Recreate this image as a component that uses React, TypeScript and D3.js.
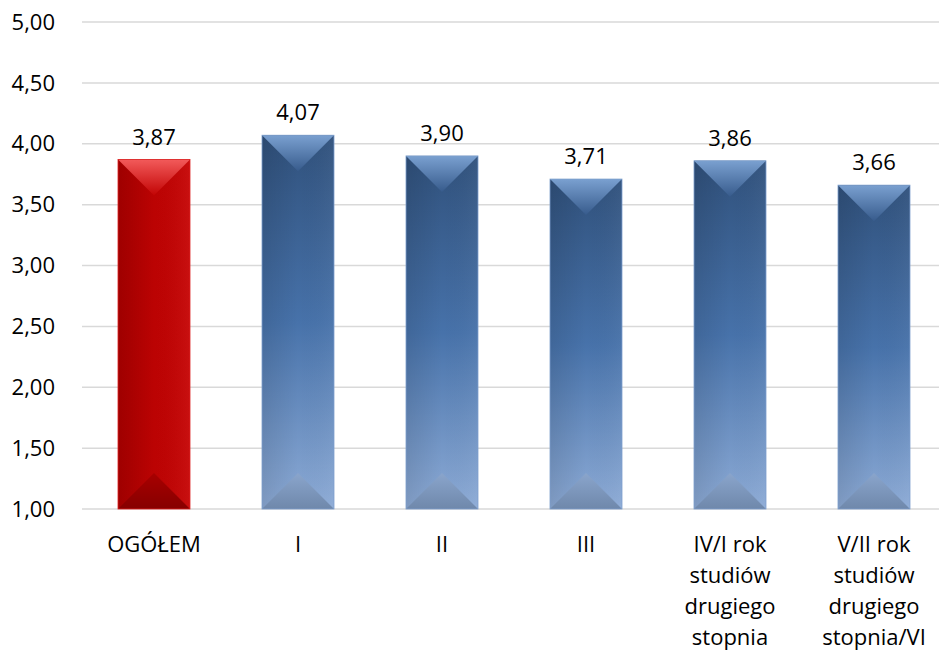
import React from "react";
import * as d3 from "d3";

const categories: string[][] = [
  ["OGÓŁEM"],
  ["I"],
  ["II"],
  ["III"],
  ["IV/I rok", "studiów", "drugiego", "stopnia"],
  ["V/II rok", "studiów", "drugiego", "stopnia/VI"],
];
const values: number[] = [3.87, 4.07, 3.9, 3.71, 3.86, 3.66];
const yTicks: number[] = [1, 1.5, 2, 2.5, 3, 3.5, 4, 4.5, 5];

const W = 939;
const H = 655;
const FONT = "'Open Sans', 'Noto Sans', sans-serif";

const fmt = (v: number) => v.toFixed(2).replace(".", ",");

export default function App() {
  const keys = categories.map((_, i) => String(i));
  const x = d3.scaleBand<string>().domain(keys).range([82, 946]).paddingInner(0.5).paddingOuter(0.25);
  const y = d3.scaleLinear().domain([1, 5]).range([509, 22]);
  const bw = x.bandwidth();
  const bevel = bw / 2;

  return (
    <svg width={W} height={H} style={{ position: "absolute", left: 0, top: 0, background: "#fff" }}>
      <defs>
        <linearGradient id="blueBody" x1="0" y1="0" x2="0" y2="1">
          <stop offset="0" stopColor="#30517c" />
          <stop offset="0.5" stopColor="#4772aa" />
          <stop offset="1" stopColor="#8dabd6" />
        </linearGradient>
        <linearGradient id="blueTop" x1="0" y1="0" x2="0" y2="1">
          <stop offset="0" stopColor="#7aa0d0" />
          <stop offset="1" stopColor="#375b8c" />
        </linearGradient>
        <linearGradient id="blueBottom" x1="0" y1="0" x2="0" y2="1">
          <stop offset="0" stopColor="#8aa5cc" />
          <stop offset="1" stopColor="#6f88ab" />
        </linearGradient>
        <linearGradient id="redBody" x1="0" y1="0" x2="1" y2="0">
          <stop offset="0" stopColor="#b00000" />
          <stop offset="1" stopColor="#c60606" />
        </linearGradient>
        <linearGradient id="redTop" x1="0" y1="0" x2="0" y2="1">
          <stop offset="0" stopColor="#f25a5a" />
          <stop offset="1" stopColor="#c20404" />
        </linearGradient>
        <linearGradient id="redBottom" x1="0" y1="0" x2="0" y2="1">
          <stop offset="0" stopColor="#a80000" />
          <stop offset="1" stopColor="#860000" />
        </linearGradient>
        <linearGradient id="sideShade" x1="0" y1="0" x2="1" y2="0">
          <stop offset="0" stopColor="#000" stopOpacity="0.1" />
          <stop offset="0.5" stopColor="#000" stopOpacity="0" />
          <stop offset="1" stopColor="#fff" stopOpacity="0.04" />
        </linearGradient>
      </defs>

      {yTicks.map((t) => (
        <g key={t}>
          <line x1={82} x2={W} y1={y(t)} y2={y(t)} stroke="#d9d9d9" strokeWidth={1.5} />
          <text x={55} y={y(t)} dy="0.35em" textAnchor="end" fontFamily={FONT} fontSize={22} fill="#000">
            {fmt(t)}
          </text>
        </g>
      ))}

      {values.map((v, i) => {
        const x0 = x(String(i)) as number;
        const top = y(v);
        const bottom = y(1);
        const red = i === 0;
        const cx = x0 + bw / 2;
        return (
          <g key={i}>
            <rect x={x0} y={top} width={bw} height={bottom - top} fill={red ? "url(#redBody)" : "url(#blueBody)"} />
            <rect x={x0} y={top} width={bw} height={bottom - top} fill="url(#sideShade)" />
            <polygon
              points={`${x0},${top} ${x0 + bw},${top} ${cx},${top + bevel}`}
              fill={red ? "url(#redTop)" : "url(#blueTop)"}
            />
            <polygon
              points={`${x0},${bottom} ${x0 + bw},${bottom} ${cx},${bottom - bevel}`}
              fill={red ? "url(#redBottom)" : "url(#blueBottom)"}
            />
            <rect x={x0} y={top} width={bw} height={bottom - top} fill="none" stroke={red ? "#d22" : "#7d9fcc"} strokeWidth={0.8} />
            <text x={cx} y={top - 15} textAnchor="middle" fontFamily={FONT} fontSize={22} fill="#000">
              {fmt(v)}
            </text>
          </g>
        );
      })}

      {categories.map((lines, i) => {
        const cx = (x(String(i)) as number) + bw / 2;
        return (
          <text key={i} textAnchor="middle" fontFamily={FONT} fontSize={22} fill="#000">
            {lines.map((l, j) => (
              <tspan key={j} x={cx} y={552 + j * 31}>
                {l}
              </tspan>
            ))}
          </text>
        );
      })}
    </svg>
  );
}
